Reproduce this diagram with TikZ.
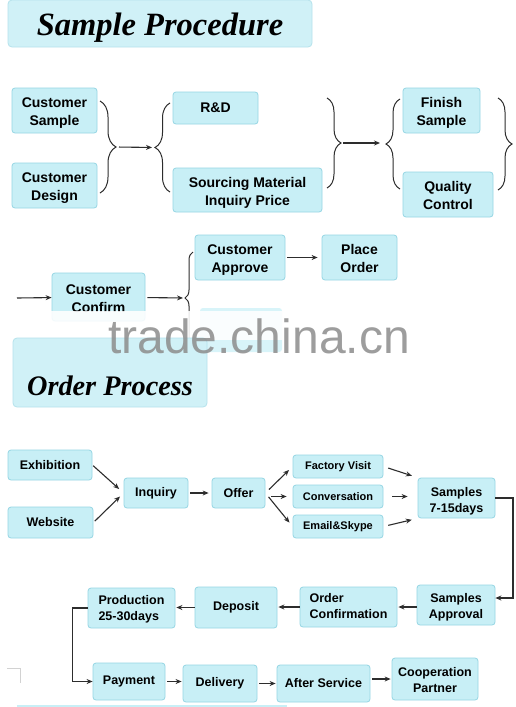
\documentclass[tikz,border=0pt]{standalone}
\usepackage{fontspec}
\setmainfont{Liberation Sans}
\newfontfamily\titlefont{Liberation Serif}
\usetikzlibrary{arrows.meta,decorations.pathreplacing}
\definecolor{boxfill}{RGB}{200,239,246}
\definecolor{boxline}{RGB}{150,214,228}
\definecolor{linegray}{RGB}{45,45,45}

\begin{document}
\begin{tikzpicture}[x=1pt,y=-1pt,
    box/.style={draw=boxline,fill=boxfill,rounded corners=3pt,line width=0.8pt,inner sep=0pt,align=center,font=\bfseries\fontsize{14}{18}\selectfont},
    obox/.style={box,font=\bfseries\fontsize{12.5}{16}\selectfont},
    sbox/.style={box,font=\bfseries\fontsize{11}{13}\selectfont},
    two/.style={text height=#1,text depth=0pt},
    title/.style={draw=boxline!70,fill=boxfill!85,rounded corners=4pt,line width=0.8pt,inner sep=0pt,anchor=base,font=\titlefont\bfseries\itshape\fontsize{#1}{36}\selectfont},
    arr/.style={draw=linegray,line width=1.1pt,-{Stealth[length=6pt,width=5pt]}},
    curly/.style={draw=linegray,line width=1pt,decorate,decoration={brace,amplitude=#1}}]
                \useasboundingbox[fill=white] (0,0) rectangle (516,707);
                \node[title=32.5,minimum width=304,text height=35pt,text depth=12pt] (t1) at (160,35) {Sample Procedure};
                \node[box,two=30pt,minimum width=85,minimum height=45] (cs) at (54.5,110.5) {Customer\\Sample};
                \node[box,two=30pt,minimum width=85,minimum height=45] (cd) at (54.5,185.5) {Customer\\Design};
                \node[box,minimum width=85,minimum height=32] (rd) at (215.5,108) {R\&D};
                \node[box,two=30pt,minimum width=149,minimum height=44] (sm) at (247.5,190) {Sourcing Material\\Inquiry Price};
                \node[box,two=30pt,minimum width=77,minimum height=45] (fs) at (441.5,110.5) {Finish\\Sample};
                \node[box,two=29pt,minimum width=90,minimum height=45] (qc) at (448,194.5) {Quality\\Control};
                \draw[curly=16] (100,101) -- (100,193);
                \draw[curly=15] (170,192) -- (170,103);
                \draw[curly=14] (327,98) -- (327,188);
                \draw[curly=14] (400,189) -- (400,99);
                \draw[curly=14] (498,98) -- (498,190);
                \coordinate (b1) at (116,147);
                \coordinate (b2) at (155,147.5);
                \coordinate (b3) at (341,143);
                \coordinate (b4) at (386,144);
                \draw[arr,shorten <=3pt,shorten >=3pt] (b1) -- (b2);
                \draw[arr,shorten <=2pt,shorten >=6pt] (b3) -- (b3 -| b4);
                \coordinate (in) at (17,298);
                \node[box,two=30pt,minimum width=93,minimum height=48] (cc) at (98.5,297) {Customer\\Confirm};
                \node[box,two=30pt,minimum width=90,minimum height=45] (ca) at (240,257.5) {Customer\\Approve};
                \node[box,two=30pt,minimum width=75,minimum height=45] (po) at (359.5,257.5) {Place\\Order};
                \fill[boxfill!70,rounded corners=3pt] (200,308) rectangle (282,352);
                \draw[curly=8] (193,344) -- (193,252);
                \coordinate (b6) at (185,298);
                \draw[arr] (in) -- (cc);
                \draw[arr,shorten <=2pt,shorten >=2pt] (cc) -- (b6);
                \draw[arr,shorten <=2pt,shorten >=4pt] (ca) -- (po);
                \fill[white,opacity=0.88] (0,311) rectangle (516,340);
                \node[title=28.3,minimum width=194,text height=57pt,text depth=12pt] (t2) at (110,395) {Order Process};
                \node[text=gray!90,opacity=0.85,font=\fontsize{48}{48}\selectfont,anchor=base,inner sep=0pt] (wm) at (259,353) {trade.china.cn};
                \node[obox,minimum width=84,minimum height=30] (ex) at (50,465) {Exhibition};
                \node[obox,minimum width=85,minimum height=31] (ws) at (50.5,522.5) {Website};
                \node[obox,minimum width=64,minimum height=30] (iq) at (156,493) {Inquiry};
                \node[obox,minimum width=53,minimum height=30] (of) at (238.5,493) {Offer};
                \node[sbox,minimum width=90,minimum height=23] (fv) at (338,466.5) {Factory Visit};
                \node[sbox,minimum width=90,minimum height=23] (cv) at (338,496.5) {Conversation};
                \node[sbox,minimum width=90,minimum height=23] (es) at (338,526.5) {Email\&Skype};
                \node[obox,two=28pt,minimum width=77,minimum height=40] (s7) at (456.5,498) {Samples\\7-15days};
                \node[obox,two=26pt,minimum width=78,minimum height=40] (sa) at (456,605) {Samples\\Approval};
                \node[obox,two=23pt,minimum width=97,minimum height=40,align=left] (oc) at (348.5,607) {Order\\Confirmation};
                \node[obox,minimum width=82,minimum height=41] (dp) at (236,607.5) {Deposit};
                \node[obox,two=24pt,minimum width=87,minimum height=40,align=left] (pr) at (131.5,608) {Production\\25-30days};
                \node[obox,minimum width=72,minimum height=37] (pm) at (129,681.5) {Payment};
                \node[obox,minimum width=74,minimum height=37] (dl) at (220,683.5) {Delivery};
                \node[obox,minimum width=93,minimum height=37] (as) at (323.5,683.5) {After Service};
                \node[obox,two=26pt,minimum width=86,minimum height=42] (cp) at (435,679) {Cooperation\\Partner};
                \draw[arr,shorten <=1pt,shorten >=6pt] (ex.east) -- (iq.west);
                \draw[arr,shorten <=2pt,shorten >=5pt] (ws.east) -- (iq.west);
                \draw[arr,shorten <=2pt,shorten >=3pt] (iq) -- (of);
                \draw[arr,shorten <=5pt,shorten >=5pt] (of.east) -- (fv.west);
                \draw[arr,shorten <=6pt,shorten >=6pt] (of.east |- cv.west) -- (cv.west);
                \draw[arr,shorten <=5pt,shorten >=5pt] (of.east) -- (es.west);
                \draw[arr,shorten <=5pt,shorten >=6pt] (fv.east) -- (s7.north west);
                \draw[arr,shorten <=9pt,shorten >=10pt] (cv.east) -- (cv.east -| s7.west);
                \draw[arr,shorten <=5pt,shorten >=6pt] (es.east) -- (s7.south west);
                \coordinate (turn) at (513,598);
                \draw[arr] (s7.east) -| (turn) -- (turn -| sa.east);
                \draw[arr,shorten >=1pt] (sa.west |- oc.east) -- (oc.east);
                \draw[arr,shorten >=1pt] (oc.west) -- (oc.west -| dp.east);
                \draw[arr,shorten >=1pt] (dp.west) -- (dp.west -| pr.east);
                \draw[arr] (pr.west) -- ++(-15,0) |- (pm.west);
                \draw[arr,shorten <=2pt,shorten >=1pt] (pm.east) -- (pm.east -| dl.west);
                \draw[arr,shorten <=2pt,shorten >=1pt] (dl.east) -- (dl.east -| as.west);
                \draw[arr,shorten <=2pt,shorten >=1pt] (as.east |- cp.west) -- (cp.west);
                \draw[gray!35,line width=0.8pt] (7,668) -- (20,668) -- (20,683);
                \fill[boxfill] (17,705) rectangle (287,707);
            \end{tikzpicture}
\end{document}
